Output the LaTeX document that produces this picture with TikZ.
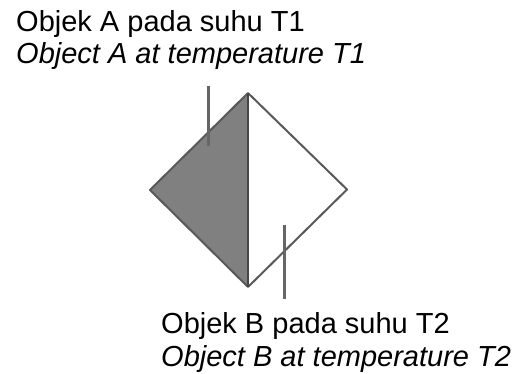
\documentclass[tikz,border=0pt]{standalone}
\usepackage{fontspec}
\setmainfont{Liberation Sans}
\begin{document}
\begin{tikzpicture}[x=1pt,y=-1pt,
  edge/.style={draw=black!65,line width=2pt,line join=round},
  leader/.style={draw=black!60,line width=2.2pt},
  caption/.style={anchor=base west,inner sep=0pt,font=\fontsize{29}{33}\selectfont},
  captionit/.style={caption,font=\fontsize{29}{33}\selectfont\itshape}]
\useasboundingbox (0,0) rectangle (516,374);
% diamond corners
\coordinate (top) at (248,93);
\coordinate (left) at (150,190);
\coordinate (right) at (347,189.5);
\coordinate (bot) at (248,287);
% object A (shaded half) and object B (white half)
\fill[black!50] (top) -- (left) -- (bot) -- cycle;
\draw[edge] (top) -- (left) -- (bot);
\draw[edge] (top) -- (right) -- (bot);
\draw[draw=black!72,line width=2.6pt] (top) -- (bot);
% leader lines
\coordinate (la1) at (208.5,86);
\coordinate (la2) at (208.5,146);
\coordinate (lb1) at (284.5,225);
\coordinate (lb2) at (284.5,299);
\draw[leader] (la1) -- (la2);
\draw[leader] (lb1) -- (lb2);
% captions
\node[caption] (a1) at (16,32) {Objek A pada suhu T1};
\node[captionit] (a2) at (16,64) {Object A at temperature T1};
\node[caption] (b1) at (161,333) {Objek B pada suhu T2};
\node[captionit] (b2) at (161,366) {Object B at temperature T2};
\end{tikzpicture}
\end{document}
